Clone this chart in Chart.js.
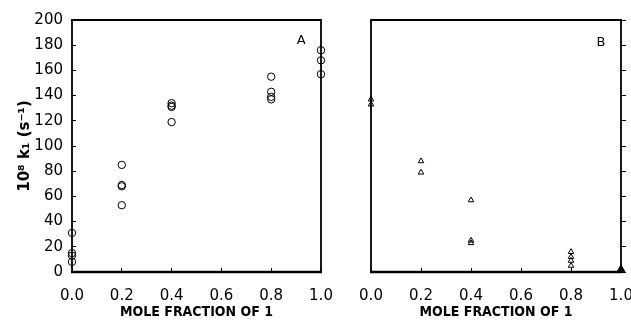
<!DOCTYPE html>
<html>
<head>
<meta charset="utf-8">
<script src="https://cdn.jsdelivr.net/npm/chart.js@4.4.0/dist/chart.umd.min.js"></script>
<style>
    body { margin: 0; background: #fff; }
    canvas { position: absolute; left: 0; top: 0; }
</style>
</head>
<body>
<canvas id="chartA" width="631" height="321"></canvas>
<canvas id="chartB" width="631" height="321"></canvas>
<script>
/* ============================ Data  ============================ */
// panel A : circles
const circleX = [0, 0, 0, 0, 0.2, 0.2, 0.2, 0.2, 0.4, 0.4, 0.4, 0.4, 0.8, 0.8, 0.8, 0.8, 1.0, 1.0, 1.0];
const circleY = [31, 15, 13, 8, 85, 69, 68, 53, 134, 132, 131, 119, 155, 143, 139, 137, 176, 168, 157];

// panel B : triangles
const triX = [0, 0, 0.2, 0.2, 0.4, 0.4, 0.4, 0.8, 0.8, 0.8, 0.8];
const triY = [137, 133, 88, 79, 57, 25, 23, 16, 12, 9, 5];
const filledX = [1.0];
const filledY = [2];

const xTicks = [0, 0.2, 0.4, 0.6, 0.8, 1.0];
const yTicks = [0, 20, 40, 60, 80, 100, 120, 140, 160, 180, 200];
const panelLabelA = { text: "A", x: 0.92, y: 184 };
const panelLabelB = { text: "B", x: 0.92, y: 182 };

function pts(xs, ys) {
    return xs.map((x, i) => ({ x: x, y: ys[i] }));
}

/* ============================ Plugins  ============================ */
const framePlugin = {
    id: "frame",
    afterDraw(chart) {
        const a = chart.chartArea;
        const ctx = chart.ctx;
        ctx.save();
        ctx.strokeStyle = "#000";
        ctx.lineWidth = 1.8;
        ctx.beginPath();
        ctx.moveTo(a.left, a.bottom);
        ctx.lineTo(a.left, a.top);
        ctx.lineTo(a.right, a.top);
        ctx.lineTo(a.right, a.bottom);
        ctx.stroke();
        ctx.lineWidth = 2.6;
        ctx.beginPath();
        ctx.moveTo(a.left - 1, a.bottom);
        ctx.lineTo(a.right + 1, a.bottom);
        ctx.stroke();
        // panel letter
        const lab = chart.options.plugins.frame.label;
        ctx.fillStyle = "#000";
        ctx.font = "13px 'DejaVu Sans'";
        ctx.textAlign = "center";
        ctx.textBaseline = "middle";
        ctx.fillText(lab.text, chart.scales.x.getPixelForValue(lab.x), chart.scales.y.getPixelForValue(lab.y));
        ctx.restore();
    },
};

const tickFont = { family: "'DejaVu Sans'", size: 15 };
const titleFont = { family: "'Liberation Sans Narrow', 'DejaVu Sans Condensed', sans-serif", size: 14, weight: "bold" };

function xScale() {
    return {
        type: "linear",
        min: 0,
        max: 1,
        afterBuildTicks: (s) => { s.ticks = xTicks.map((v) => ({ value: v })); },
        afterFit: (s) => { s.height = 49; s.paddingLeft = 0; s.paddingRight = 0; },
        border: { display: false },
        grid: { drawOnChartArea: false, drawTicks: true, tickLength: -4, color: "#000", lineWidth: 1 },
        ticks: { color: "#000", font: tickFont, padding: 19, maxRotation: 0, callback: (v) => Number(v).toFixed(1) },
        title: { display: true, text: "MOLE FRACTION OF 1", color: "#000", font: titleFont, padding: { top: 0, bottom: 0 } },
    };
}

/* ============================ Panel A  ============================ */
const chartA = new Chart(document.getElementById("chartA"), {
    type: "scatter",
    data: {
        datasets: [
            {
                data: pts(circleX, circleY),
                pointStyle: "circle",
                pointRadius: 3.7,
                borderWidth: 1,
                borderColor: "#000",
                backgroundColor: "rgba(0,0,0,0)",
                clip: false,
            },
        ],
    },
    options: {
        responsive: false,
        animation: false,
        layout: { padding: { left: 0, top: 20, right: 310, bottom: 0 } },
        scales: {
            x: xScale(),
            y: {
                type: "linear",
                min: 0,
                max: 200,
                afterBuildTicks: (s) => { s.ticks = yTicks.map((v) => ({ value: v })); },
                afterFit: (s) => { s.width = 72; s.paddingTop = 0; s.paddingBottom = 0; },
                border: { display: false },
                grid: { drawOnChartArea: false, drawTicks: true, tickLength: -4, color: "#000", lineWidth: 1 },
                ticks: { color: "#000", font: tickFont, padding: 13 },
                title: {
                    display: true,
                    text: "10⁸ k₁ (s⁻¹)",
                    color: "#000",
                    font: { family: "'DejaVu Sans'", size: 15, weight: "bold" },
                    padding: { top: 16, bottom: 0 },
                },
            },
        },
        plugins: {
            legend: { display: false },
            tooltip: { enabled: false },
            frame: { label: panelLabelA },
        },
    },
    plugins: [framePlugin],
});

/* ============================ Panel B  ============================ */
const chartB = new Chart(document.getElementById("chartB"), {
    type: "scatter",
    data: {
        datasets: [
            {
                data: pts(triX, triY),
                pointStyle: "triangle",
                pointRadius: 3.2,
                borderWidth: 1,
                borderColor: "#000",
                backgroundColor: "rgba(0,0,0,0)",
                clip: false,
            },
            {
                data: pts(filledX, filledY),
                pointStyle: "triangle",
                pointRadius: 4.5,
                borderWidth: 1,
                borderColor: "#000",
                backgroundColor: "#000",
                clip: false,
            },
        ],
    },
    options: {
        responsive: false,
        animation: false,
        layout: { padding: { left: 361, top: 20, right: 5, bottom: 0 } },
        scales: {
            x: xScale(),
            y: {
                type: "linear",
                min: 0,
                max: 200,
                afterFit: (s) => { s.width = 10; s.paddingTop = 0; s.paddingBottom = 0; },
                border: { display: false },
                grid: { display: false },
                ticks: { display: false },
            },
            y2: {
                type: "linear",
                position: "right",
                min: 0,
                max: 200,
                afterBuildTicks: (s) => { s.ticks = yTicks.map((v) => ({ value: v })); },
                afterFit: (s) => { s.width = 5; s.paddingTop = 0; s.paddingBottom = 0; },
                border: { display: false },
                grid: { drawOnChartArea: false, drawTicks: true, tickLength: 5, color: "#000", lineWidth: 1 },
                ticks: { display: false },
            },
        },
        plugins: {
            legend: { display: false },
            tooltip: { enabled: false },
            frame: { label: panelLabelB },
        },
    },
    plugins: [framePlugin],
});
</script>
</body>
</html>
